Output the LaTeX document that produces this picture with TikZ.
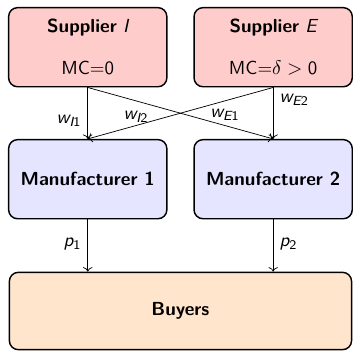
\documentclass[tikz,border=0pt]{standalone}
\usepackage{amsmath}
\usetikzlibrary{
  arrows.meta,
  positioning,
  calc
}
\DeclareMathAlphabet{\mathsfsl}{TU}{lmss}{m}{sl}
\newcommand{\vsl}[1]{\mathsfsl{#1}}
\newcommand{\vup}[1]{\text{\sffamily\mdseries #1}}
\newcommand{\picfont}{\fontsize{10.5pt}{12.6pt}\selectfont\sffamily}
\definecolor{lightRed}{rgb}{1,0.8,0.8}
\definecolor{lightLilac}{rgb}{0.9,0.9,1}
\definecolor{lightPeach}{rgb}{1,0.898,0.8}
\tikzset{
  box/.style={
    draw,
    thick,
    rounded corners = 5pt,
    minimum width = 88pt,
    minimum height = 44pt,
    align = center,
    font = \picfont
  },
  supplier/.style={box, fill=lightRed},
  maker/.style={box, fill=lightLilac, font=\picfont\bfseries},
  market/.style={box, fill=lightPeach, font=\picfont\bfseries,
    minimum width = 190.3pt, minimum height = 43pt}
}
\begin{document}
\begin{tikzpicture}[font=\picfont, node distance = 28.6pt and 14.3pt]
    \node[supplier] (supI) {\textbf{Supplier} $\vsl{I}$\\[10.5pt]MC=0};
    \node[supplier, right=of supI] (supE)
    {\textbf{Supplier} $\vsl{E}$\\[10.5pt]MC=$\delta > \vup{0}$};

    \node[maker, below=of supI] (maker1) {Manufacturer 1};
    \node[maker, below=of supE] (maker2) {Manufacturer 2};

    \node[market, anchor=north] (buyers)
    at ($(maker1.south)!0.5!(maker2.south)+(0,-29pt)$) {Buyers};

    \coordinate (in1) at (maker1.south |- buyers.north);
    \coordinate (in2) at (maker2.south |- buyers.north);

    \useasboundingbox ($(supI.north west)+(-4.4pt,3.85pt)$)
    rectangle ++(194.2pt,-192.5pt);

    \draw[->] (supI.south) -- node[left, yshift=-4pt]
    {$\vsl{w}_{\vsl{I}\vup{1}}$} (maker1.north);
    \draw[->] (supI.south) -- node[pos=0.26, below, yshift=-2pt]
    {$\vsl{w}_{\vsl{I}\vup{2}}$} (maker2.north);
    \draw[->] (supE.south) -- node[pos=0.26, below, yshift=-1pt]
    {$\vsl{w}_{\vsl{E}\vup{1}}$} (maker1.north);
    \draw[->] (supE.south) -- node[pos=0.24, right]
    {$\vsl{w}_{\vsl{E}\vup{2}}$} (maker2.north);

    \draw[->] (maker1.south) -- node[left, yshift=1pt] {$\vsl{p}_{\vup{1}}$} (in1);
    \draw[->] (maker2.south) -- node[right, yshift=1pt] {$\vsl{p}_{\vup{2}}$} (in2);
\end{tikzpicture}
\end{document}
